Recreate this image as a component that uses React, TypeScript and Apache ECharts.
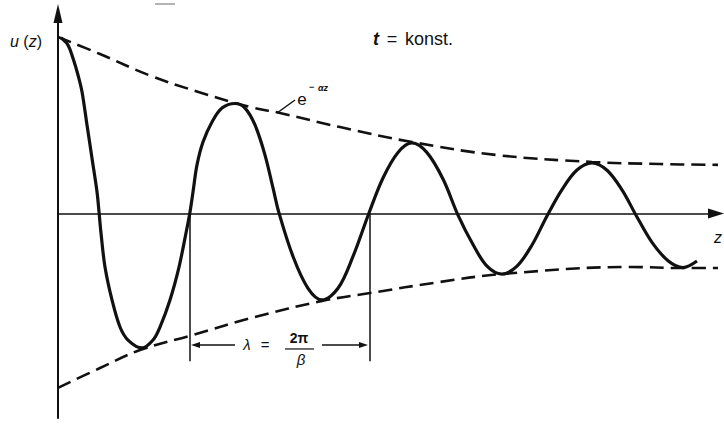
import React, { useEffect, useRef } from "react";
import * as echarts from "echarts";

// Damped wave u(z) at fixed time t, sampled along z
const waveZ = [
  0.03, 0.1, 0.15, 0.2, 0.24, 0.29, 0.34, 0.39, 0.41,
  0.43, 0.47, 0.54, 0.62, 0.7, 0.84, 0.95, 1.02, 1.12, 1.21, 1.28, 1.32,
  1.35, 1.39, 1.45, 1.54, 1.64, 1.77,
  1.87, 1.97, 2.07, 2.15, 2.21,
  2.35, 2.5, 2.64, 2.8, 2.95, 3.11,
  3.25, 3.4, 3.54, 3.69, 3.85, 4.0,
  4.15, 4.29, 4.44, 4.59, 4.74, 4.89,
  5.04, 5.19, 5.34, 5.49, 5.64, 5.79,
  5.94, 6.1, 6.25, 6.39,
];
const waveU = [
  0.998, 0.957, 0.882, 0.787, 0.692, 0.503, 0.314, 0.124, 0.01,
  -0.111, -0.304, -0.491, -0.645, -0.719, -0.764, -0.719, -0.645, -0.491, -0.304, -0.111, 0.009,
  0.122, 0.276, 0.406, 0.52, 0.599, 0.625,
  0.599, 0.503, 0.332, 0.145, 0.003,
  -0.244, -0.425, -0.491, -0.425, -0.244, 0.003,
  0.202, 0.347, 0.401, 0.346, 0.196, -0.009,
  -0.176, -0.299, -0.344, -0.299, -0.179, -0.014,
  0.136, 0.247, 0.287, 0.246, 0.134, -0.02,
  -0.164, -0.268, -0.307, -0.27,
];

// Envelopes ±e^(−αz)
const upperZ = [0, 0.42, 0.92, 1.42, 1.92, 2.22, 2.82, 3.54, 4.39, 5.34, 6.02, 6.66];
const upperU = [1.003, 0.906, 0.784, 0.688, 0.605, 0.571, 0.491, 0.406, 0.332, 0.293, 0.281, 0.276];
const lowerZ = [0, 0.42, 0.82, 1.35, 1.97, 2.64, 3.12, 3.82, 4.44, 5.72, 6.25, 6.66];
const lowerU = [-0.991, -0.878, -0.776, -0.69, -0.588, -0.497, -0.452, -0.389, -0.344, -0.304, -0.31, -0.31];

// Wavelength λ = 2π/β, measured between two zero crossings
const lambdaStart = 1.32;
const lambdaEnd = 3.12;
const dimU = -0.747; // height of the dimension arrow
const dimFootU = -0.84; // lower end of the extension lines
const dimGap = [1.77, 2.64]; // free space for the formula

// Axis ranges
const Z_MAX = 6.58;
const U_MAX = 1.13636;
const U_MIN = -1.16193;

const INK = "#111";
const FONT = '"Liberation Sans", Arial, Helvetica, sans-serif';

const pairs = (zs: number[], us: number[]) => zs.map((z, i) => [z, us[i]]);

export default function App() {
  const ref = useRef<HTMLDivElement>(null);

  useEffect(() => {
    if (!ref.current) return;
    const chart = echarts.init(ref.current, null, { renderer: "svg" });
    const arrowHalf = 0.045; // half of a 9px arrowhead, in z units

    const text = (
      x: number,
      y: number,
      t: string,
      size: number,
      extra: Record<string, unknown> = {},
      align = "left"
    ) => ({
      type: "text",
      x,
      y,
      silent: true,
      style: {
        text: t,
        fill: INK,
        fontFamily: FONT,
        fontSize: size,
        align,
        textAlign: align,
        verticalAlign: "middle",
        textVerticalAlign: "middle",
        ...extra,
      },
    });

    const dashed = { color: INK, width: 2.6, type: [14, 7] };

    chart.setOption({
      animation: false,
      backgroundColor: "#fff",
      grid: { left: 58, right: 8, top: 13.5, bottom: 7 },
      xAxis: {
        type: "value",
        min: 0,
        max: Z_MAX,
        axisLine: {
          show: true,
          onZero: true,
          symbol: ["none", "triangle"],
          symbolSize: [10, 16],
          lineStyle: { color: INK, width: 1.7 },
        },
        axisTick: { show: false },
        axisLabel: { show: false },
        splitLine: { show: false },
      },
      yAxis: {
        type: "value",
        min: U_MIN,
        max: U_MAX,
        axisLine: {
          show: true,
          onZero: true,
          symbol: ["none", "triangle"],
          symbolSize: [9, 19],
          lineStyle: { color: INK, width: 2 },
        },
        axisTick: { show: false },
        axisLabel: { show: false },
        splitLine: { show: false },
      },
      series: [
        {
          name: "upper",
          type: "line",
          data: pairs(upperZ, upperU),
          smooth: 0.4,
          symbol: "none",
          clip: false,
          lineStyle: dashed,
        },
        {
          name: "lower",
          type: "line",
          data: pairs(lowerZ, lowerU),
          smooth: 0.4,
          symbol: "none",
          clip: false,
          lineStyle: dashed,
          markLine: {
            silent: true,
            symbol: ["none", "none"],
            label: { show: false },
            lineStyle: { color: INK, width: 1.5, type: "solid" },
            data: [
              [{ coord: [lambdaStart, 0] }, { coord: [lambdaStart, dimFootU] }],
              [{ coord: [lambdaEnd, 0] }, { coord: [lambdaEnd, dimFootU] }],
              [
                { coord: [lambdaStart + arrowHalf + 0.01, dimU], symbol: "triangle", symbolSize: [6, 9] },
                { coord: [dimGap[0], dimU], symbol: "none" },
              ],
              [
                { coord: [dimGap[1], dimU], symbol: "none" },
                { coord: [lambdaEnd - arrowHalf - 0.02, dimU], symbol: "triangle", symbolSize: [6, 9] },
              ],
            ],
          },
        },
        {
          name: "u",
          type: "line",
          data: pairs(waveZ, waveU),
          smooth: 0.35,
          symbol: "none",
          clip: false,
          lineStyle: { color: INK, width: 3.2 },
          z: 3,
        },
      ],
    });

    const [lx0] = chart.convertToPixel({ gridIndex: 0 }, [lambdaStart, 0]) as number[];
    const [lx1] = chart.convertToPixel({ gridIndex: 0 }, [lambdaEnd, 0]) as number[];
    const [, dy] = chart.convertToPixel({ gridIndex: 0 }, [0, dimU]) as number[];
    const mid = (lx0 + lx1) / 2;

    chart.setOption({
      graphic: [
        // axis labels
        {
          type: "text",
          x: 10,
          y: 41,
          silent: true,
          style: {
            text: "{i|u} ({i|z})",
            fill: INK,
            fontFamily: FONT,
            fontSize: 16,
            verticalAlign: "middle",
            textVerticalAlign: "middle",
            rich: {
              i: { fontStyle: "italic", fontFamily: FONT, fontSize: 16, fill: INK },
            },
          },
        },
        text(714, 237, "z", 16, { fontStyle: "italic" }),
        text(373, 39, "t", 18, { fontStyle: "italic", fontWeight: "bold" }),
        text(392, 39, "=", 18, {}, "center"),
        text(405, 39, "konst.", 18),
        // envelope label e^(−αz) with its leader line
        {
          type: "line",
          silent: true,
          shape: { x1: 277, y1: 113, x2: 295, y2: 100 },
          style: { stroke: INK, lineWidth: 1.5 },
        },
        text(302, 99, "e", 17, {}, "center"),
        text(309, 87, "−", 9, { fontWeight: "bold" }),
        text(318, 88, "αz", 9, { fontStyle: "italic", fontWeight: "bold" }),
        // wavelength formula
        text(mid - 33, dy, "λ", 15, { fontStyle: "italic" }, "center"),
        text(mid - 15, dy, "=", 15, {}, "center"),
        text(mid + 19, dy - 7, "2π", 14, { fontWeight: "bold" }, "center"),
        {
          type: "line",
          silent: true,
          shape: { x1: mid + 5, y1: dy + 4, x2: mid + 34, y2: dy + 4 },
          style: { stroke: INK, lineWidth: 1.2 },
        },
        text(mid + 21, dy + 15, "β", 15, { fontStyle: "italic" }, "center"),
        // faint mark near the top edge
        {
          type: "line",
          silent: true,
          shape: { x1: 155, y1: 4, x2: 175, y2: 4 },
          style: { stroke: "#9a9a9a", lineWidth: 1.5 },
        },
      ],
    });

    return () => chart.dispose();
  }, []);

  return (
    <div
      ref={ref}
      style={{ position: "fixed", left: 0, top: 0, width: 724, height: 425, background: "#fff" }}
    />
  );
}
